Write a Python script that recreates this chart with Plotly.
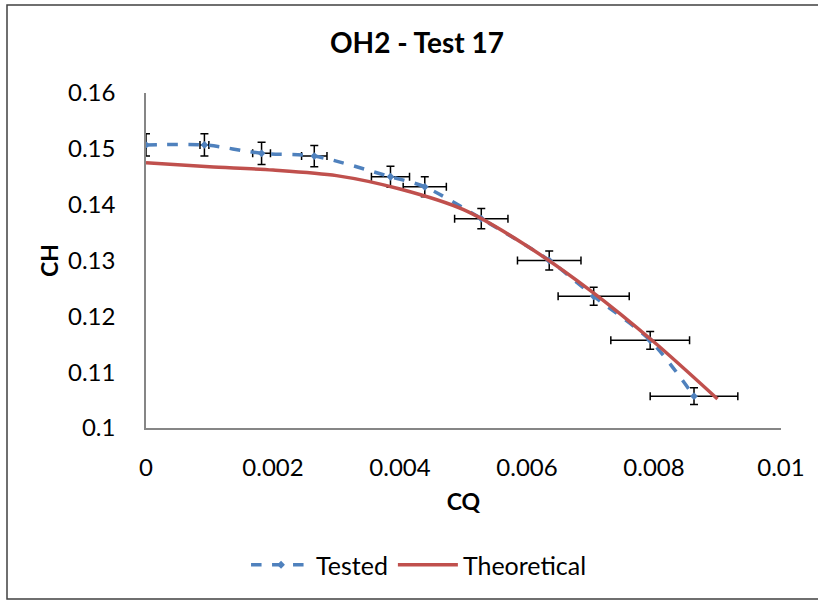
import plotly.graph_objects as go

# Data
cq_tested = [0.0, 0.00092, 0.00182, 0.00265, 0.00385, 0.00439, 0.00528, 0.00635, 0.00705, 0.00794, 0.00863]
ch_tested = [0.1507, 0.1507, 0.1492, 0.1487, 0.1450, 0.1432, 0.1375, 0.1300, 0.1236, 0.1157, 0.1057]
cq_err = [0.0, 0.00007, 0.00014, 0.00020, 0.00030, 0.00034, 0.00042, 0.00050, 0.00056, 0.00062, 0.00069]
ch_err = [0.0020, 0.0020, 0.0020, 0.0019, 0.0019, 0.0018, 0.0018, 0.0017, 0.0016, 0.0016, 0.0015]

cq_theory = [0.0, 0.001, 0.002, 0.003, 0.004, 0.005, 0.006, 0.007, 0.008, 0.009]
ch_theory = [0.1475, 0.1468, 0.1462, 0.1452, 0.1428, 0.1391, 0.1326, 0.1246, 0.1154, 0.1052]

x_ticks = [0, 0.002, 0.004, 0.006, 0.008, 0.01]
x_ticklabels = ["0", "0.002", "0.004", "0.006", "0.008", "0.01"]
y_ticks = [0.1, 0.11, 0.12, 0.13, 0.14, 0.15, 0.16]
y_ticklabels = ["0.1", "0.11", "0.12", "0.13", "0.14", "0.15", "0.16"]

FONT = "Lato, 'Open Sans', sans-serif"

fig = go.Figure()
fig.add_trace(go.Scatter(
    x=cq_tested, y=ch_tested, name="Tested", mode="lines+markers",
    line=dict(color="#4F81BD", width=3.5, dash="dash", shape="spline", smoothing=0.8),
    marker=dict(symbol="diamond", size=6, color="#4F81BD"),
    error_x=dict(type="data", array=cq_err, color="black", thickness=1.5, width=4),
    error_y=dict(type="data", array=ch_err, color="black", thickness=1.5, width=4),
))
fig.add_trace(go.Scatter(
    x=cq_theory, y=ch_theory, name="Theoretical", mode="lines",
    line=dict(color="#C0504D", width=3.5, shape="spline", smoothing=0.8),
))

fig.update_layout(
    width=818, height=601,
    margin=dict(l=146, r=37, t=93, b=173),
    paper_bgcolor="white", plot_bgcolor="white",
    font=dict(family=FONT, size=24, color="black"),
    title=dict(text="<b>OH2 - Test 17</b>", x=(417 - 146) / 635, xanchor="center", xref="paper",
               y=1 - 43 / 601, yanchor="middle", font=dict(size=28, family=FONT)),
    xaxis=dict(range=[0, 0.01], tickvals=x_ticks, ticktext=x_ticklabels, showgrid=False,
               zeroline=False, showline=True, linecolor="#868686", linewidth=1.5, ticks="",
               ticklabelstandoff=17,
               title=dict(text="<b>CQ</b>", standoff=14, font=dict(size=23))),
    yaxis=dict(range=[0.1, 0.16], tickvals=y_ticks, ticktext=y_ticklabels, showgrid=False,
               zeroline=False, showline=True, linecolor="#868686", linewidth=1.5, ticks="",
               ticklabelstandoff=24,
               title=dict(text="<b>CH</b>", standoff=3, font=dict(size=23))),
    legend=dict(orientation="h", x=0.43, xanchor="center", y=-(565 - 428) / 335, yanchor="middle",
                font=dict(size=25), itemwidth=60),
    showlegend=True,
)

fig.add_shape(type="rect", xref="paper", yref="paper",
              x0=(7 - 146) / 635, x1=1.5,
              y0=(428 - 599) / 335, y1=(428 - 5) / 335,
              line=dict(color="#404040", width=1.5), fillcolor="rgba(0,0,0,0)", layer="below")

fig.write_html("out.html")
